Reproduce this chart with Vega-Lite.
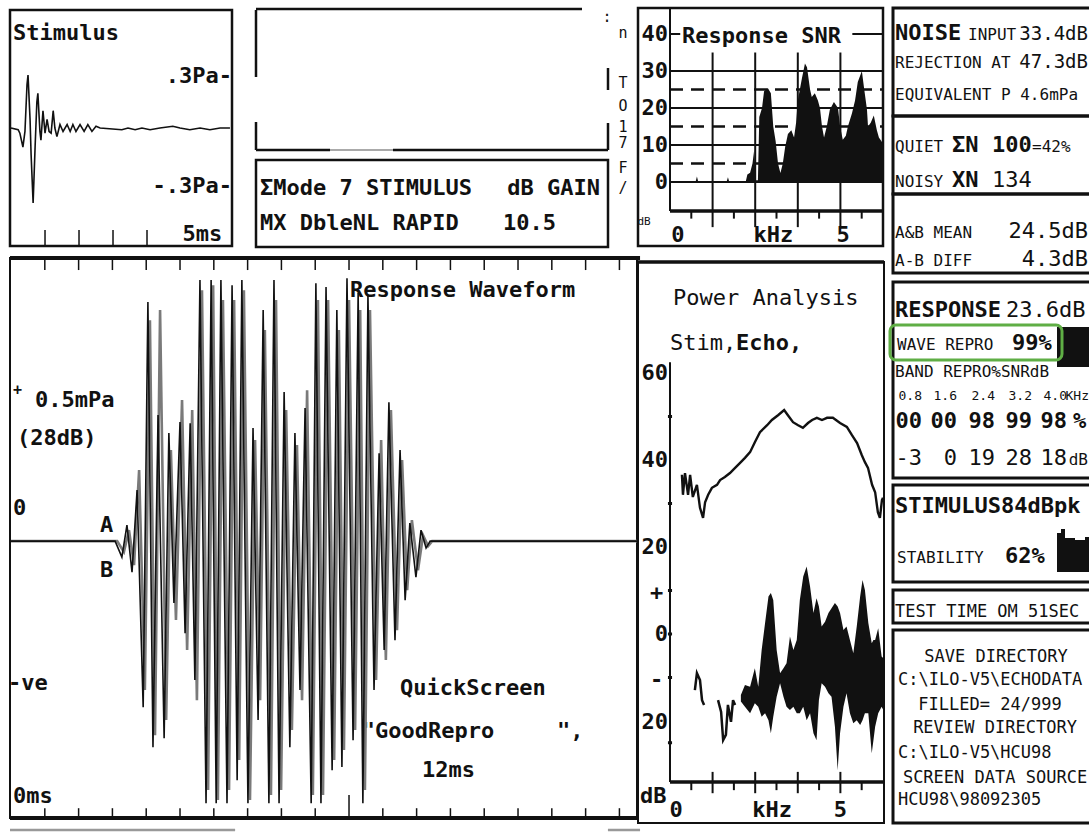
{
"$schema":"https://vega.github.io/schema/vega-lite/v6.json",
"width":1089,"height":832,"autosize":"none","padding":0,"background":"white",
"config":{"view":{"stroke":null},"text":{"font":"DejaVu Sans Mono","fontSize":22,"fontWeight":"bold","color":"#111","baseline":"alphabetic","align":"left"}},
"resolve":{"scale":{"x":"independent","y":"independent"}},
"layer":[
{"encoding":{"x":{"field":"ms","type":"quantitative","scale":{"domain":[-0.03,6.5],"range":[10,232],"nice":false,"zero":false},"axis":null},"y":{"field":"Pa","type":"quantitative","scale":{"domain":[-0.682,0.682],"range":[246,10],"nice":false,"zero":false},"axis":null}},
"layer":[
{"data":{"values":[{"ms":-0.03,"ms_end":6.5,"Pa":-0.682,"Pa_end":0.682}]},"mark":{"type":"rect","fillOpacity":0,"stroke":"#111","strokeWidth":2.5},"encoding":{"x2":{"field":"ms_end"},"y2":{"field":"Pa_end"}}},
{"data":{"values":[{"ms":1,"Pa":-0.682,"Pa_end":-0.59},{"ms":2,"Pa":-0.682,"Pa_end":-0.59},{"ms":3,"Pa":-0.682,"Pa_end":-0.59},{"ms":4,"Pa":-0.682,"Pa_end":-0.59}]},"mark":{"type":"rule","color":"#111","strokeWidth":1.5},"encoding":{"y2":{"field":"Pa_end"}}},
{"data":{"values":[{"ms":0,"Pa":0},{"ms":0.21,"Pa":-0.01},{"ms":0.26,"Pa":-0.03},{"ms":0.35,"Pa":-0.11},{"ms":0.41,"Pa":-0.02},{"ms":0.47,"Pa":0.25},{"ms":0.5,"Pa":0.306},{"ms":0.56,"Pa":0.05},{"ms":0.59,"Pa":-0.15},{"ms":0.65,"Pa":-0.434},{"ms":0.71,"Pa":-0.1},{"ms":0.76,"Pa":0.15},{"ms":0.79,"Pa":0.2},{"ms":0.85,"Pa":-0.02},{"ms":0.88,"Pa":-0.07},{"ms":0.94,"Pa":0.1},{"ms":1.0,"Pa":-0.03},{"ms":1.06,"Pa":0.05},{"ms":1.12,"Pa":-0.02},{"ms":1.18,"Pa":-0.03},{"ms":1.24,"Pa":0.1},{"ms":1.29,"Pa":0.0},{"ms":1.35,"Pa":-0.05},{"ms":1.44,"Pa":0.02},{"ms":1.53,"Pa":-0.02},{"ms":1.65,"Pa":0.02},{"ms":1.74,"Pa":-0.02},{"ms":1.82,"Pa":0.02},{"ms":1.91,"Pa":-0.02},{"ms":2.03,"Pa":0.02},{"ms":2.15,"Pa":-0.02},{"ms":2.26,"Pa":0.02},{"ms":2.38,"Pa":-0.02},{"ms":2.5,"Pa":0.01},{"ms":2.62,"Pa":0},{"ms":3.26,"Pa":-0.01},{"ms":3.44,"Pa":0},{"ms":3.65,"Pa":-0.01},{"ms":3.85,"Pa":0},{"ms":4.09,"Pa":-0.01},{"ms":4.38,"Pa":0},{"ms":4.76,"Pa":0.01},{"ms":4.97,"Pa":0},{"ms":5.26,"Pa":-0.01},{"ms":5.56,"Pa":0},{"ms":5.85,"Pa":-0.01},{"ms":6.15,"Pa":0},{"ms":6.44,"Pa":0}]},"mark":{"type":"line","color":"#111","strokeWidth":1.6},"encoding":{}},
{"data":{"values":[{"ms":0.06,"Pa":0.509,"label":"Stimulus"}]},"mark":{"type":"text"},"encoding":{"text":{"field":"label"}}},
{"data":{"values":[{"ms":6.5,"Pa":0.26,"label":".3Pa-"},{"ms":6.5,"Pa":-0.376,"label":"-.3Pa-"},{"ms":6.21,"Pa":-0.653,"label":"5ms"}]},"mark":{"type":"text","align":"right"},"encoding":{"text":{"field":"label"}}}
]},
{"encoding":{"x":{"field":"x","type":"quantitative","scale":{"domain":[0,380],"range":[256,636],"nice":false,"zero":false},"axis":null},"y":{"field":"y","type":"quantitative","scale":{"domain":[0,240],"range":[8,248],"nice":false,"zero":false},"axis":null}},
"layer":[
{"data":{"values":[{"x":0,"x_end":326,"y":1,"y_end":1},{"x":0,"x_end":0,"y":2,"y_end":69},{"x":0,"x_end":0,"y":114,"y_end":142},{"x":352,"x_end":352,"y":60,"y_end":82},{"x":352,"x_end":352,"y":115,"y_end":142},{"x":0,"x_end":74,"y":142,"y_end":142},{"x":137,"x_end":352,"y":142,"y_end":142}]},"mark":{"type":"rule","color":"#111","strokeWidth":2.5},"encoding":{"x2":{"field":"x_end"},"y2":{"field":"y_end"}}},
{"data":{"values":[{"x":74,"x_end":137,"y":142,"y_end":142}]},"mark":{"type":"rule","color":"#aaa","strokeWidth":2},"encoding":{"x2":{"field":"x_end"},"y2":{"field":"y_end"}}},
{"data":{"values":[{"x":0,"x_end":352,"y":152,"y_end":239}]},"mark":{"type":"rect","fillOpacity":0,"stroke":"#111","strokeWidth":2.5},"encoding":{"x2":{"field":"x_end"},"y2":{"field":"y_end"}}},
{"data":{"values":[{"x":4,"y":187,"label":"ΣMode 7 STIMULUS"},{"x":4,"y":222,"label":"MX DbleNL RAPID"},{"x":247,"y":222,"label":"10.5"}]},"mark":{"type":"text"},"encoding":{"text":{"field":"label"}}},
{"data":{"values":[{"x":344,"y":187,"label":"dB GAIN"}]},"mark":{"type":"text","align":"right"},"encoding":{"text":{"field":"label"}}},
{"data":{"values":[{"x":367,"y":30,"label":"n"},{"x":367,"y":80,"label":"T"},{"x":367,"y":103,"label":"O"},{"x":367,"y":124,"label":"1"},{"x":367,"y":140,"label":"7"},{"x":367,"y":165,"label":"F"},{"x":367,"y":185,"label":"/"},{"x":351,"y":14,"label":":"}]},"mark":{"type":"text","align":"center","fontSize":15,"fontWeight":"normal"},"encoding":{"text":{"field":"label"}}}
]},
{"encoding":{"x":{"field":"kHz","type":"quantitative","scale":{"domain":[-0.939,6.25],"range":[638,883],"nice":false,"zero":false},"axis":null},"y":{"field":"dB","type":"quantitative","scale":{"domain":[-17.3,47.03],"range":[246,8],"nice":false,"zero":false},"axis":null}},
"layer":[
{"data":{"values":[{"kHz":-0.939,"kHz_end":6.25,"dB":-17.3,"dB_end":47.03}]},"mark":{"type":"rect","fillOpacity":0,"stroke":"#111","strokeWidth":2.5},"encoding":{"x2":{"field":"kHz_end"},"y2":{"field":"dB_end"}}},
{"data":{"values":[{"kHz":0,"kHz_end":6.25,"dB":5,"dB_end":5},{"kHz":0,"kHz_end":6.25,"dB":15,"dB_end":15},{"kHz":0,"kHz_end":6.25,"dB":25,"dB_end":25}]},"mark":{"type":"rule","color":"#111","strokeWidth":2.5,"strokeDash":[13,8]},"encoding":{"x2":{"field":"kHz_end"},"y2":{"field":"dB_end"}}},
{"data":{"values":[{"kHz":0,"kHz_end":6.25,"dB":0,"dB_end":0},{"kHz":0,"kHz_end":6.25,"dB":10,"dB_end":10},{"kHz":0,"kHz_end":6.25,"dB":20,"dB_end":20},{"kHz":0,"kHz_end":6.25,"dB":30,"dB_end":30},{"kHz":0,"kHz_end":0.3,"dB":40,"dB_end":40},{"kHz":5.35,"kHz_end":6.25,"dB":40,"dB_end":40},{"kHz":1.25,"kHz_end":1.25,"dB":-7.84,"dB_end":35},{"kHz":2.5,"kHz_end":2.5,"dB":-7.84,"dB_end":35},{"kHz":3.75,"kHz_end":3.75,"dB":-7.84,"dB_end":35},{"kHz":5,"kHz_end":5,"dB":-7.84,"dB_end":35},{"kHz":0,"kHz_end":0,"dB":-7.84,"dB_end":47.03},{"kHz":1.25,"kHz_end":1.25,"dB":-7.84,"dB_end":-12.2},{"kHz":2.5,"kHz_end":2.5,"dB":-7.84,"dB_end":-12.2},{"kHz":3.75,"kHz_end":3.75,"dB":-7.84,"dB_end":-12.2},{"kHz":5,"kHz_end":5,"dB":-7.84,"dB_end":-12.2},{"kHz":0.625,"kHz_end":0.625,"dB":-7.84,"dB_end":-9.9},{"kHz":1.875,"kHz_end":1.875,"dB":-7.84,"dB_end":-9.9},{"kHz":3.125,"kHz_end":3.125,"dB":-7.84,"dB_end":-9.9},{"kHz":4.375,"kHz_end":4.375,"dB":-7.84,"dB_end":-9.9},{"kHz":5.625,"kHz_end":5.625,"dB":-7.84,"dB_end":-9.9}]},"mark":{"type":"rule","color":"#111","strokeWidth":2},"encoding":{"x2":{"field":"kHz_end"},"y2":{"field":"dB_end"}}},
{"data":{"values":[{"kHz":0,"kHz_end":6.25,"dB":-7.84,"dB_end":-7.84}]},"mark":{"type":"rule","color":"#111","strokeWidth":3.5},"encoding":{"x2":{"field":"kHz_end"},"y2":{"field":"dB_end"}}},
{"data":{"values":[{"kHz":0,"dB":0},{"kHz":0.75,"dB":0},{"kHz":0.79,"dB":1.5},{"kHz":0.83,"dB":0},{"kHz":1.66,"dB":0},{"kHz":1.7,"dB":1.3},{"kHz":1.74,"dB":0},{"kHz":2.22,"dB":0},{"kHz":2.27,"dB":2.0},{"kHz":2.35,"dB":2.5},{"kHz":2.42,"dB":5.0},{"kHz":2.47,"dB":8.6},{"kHz":2.52,"dB":0.5},{"kHz":2.58,"dB":0.5},{"kHz":2.62,"dB":17.6},{"kHz":2.7,"dB":20},{"kHz":2.76,"dB":24.5},{"kHz":2.87,"dB":25.4},{"kHz":2.96,"dB":24},{"kHz":3.03,"dB":15},{"kHz":3.1,"dB":11},{"kHz":3.17,"dB":5},{"kHz":3.24,"dB":2.4},{"kHz":3.31,"dB":5},{"kHz":3.38,"dB":9.5},{"kHz":3.46,"dB":13},{"kHz":3.56,"dB":14},{"kHz":3.64,"dB":12},{"kHz":3.7,"dB":16},{"kHz":3.75,"dB":22},{"kHz":3.87,"dB":28},{"kHz":3.96,"dB":32},{"kHz":4.02,"dB":31},{"kHz":4.11,"dB":25},{"kHz":4.16,"dB":23},{"kHz":4.25,"dB":24},{"kHz":4.34,"dB":22},{"kHz":4.4,"dB":20},{"kHz":4.46,"dB":15},{"kHz":4.52,"dB":12},{"kHz":4.6,"dB":15},{"kHz":4.69,"dB":19.5},{"kHz":4.81,"dB":21.6},{"kHz":4.93,"dB":20},{"kHz":4.99,"dB":15},{"kHz":5.07,"dB":11.4},{"kHz":5.16,"dB":12.5},{"kHz":5.22,"dB":15},{"kHz":5.34,"dB":18.6},{"kHz":5.43,"dB":22},{"kHz":5.51,"dB":27},{"kHz":5.63,"dB":30},{"kHz":5.69,"dB":25.7},{"kHz":5.78,"dB":19.5},{"kHz":5.81,"dB":15},{"kHz":5.89,"dB":16},{"kHz":5.98,"dB":18},{"kHz":6.07,"dB":14},{"kHz":6.13,"dB":12},{"kHz":6.22,"dB":10.8},{"kHz":6.25,"dB":10.8}]},"mark":{"type":"area","color":"#111"},"encoding":{"y2":{"datum":0}}},
{"data":{"values":[{"kHz":-0.06,"dB":40,"label":"40"},{"kHz":-0.06,"dB":30,"label":"30"},{"kHz":-0.06,"dB":20,"label":"20"},{"kHz":-0.06,"dB":10,"label":"10"},{"kHz":-0.06,"dB":0,"label":"0"}]},"mark":{"type":"text","align":"right","baseline":"middle"},"encoding":{"text":{"field":"label"}}},
{"data":{"values":[{"kHz":0.35,"dB":37.6,"label":"Response SNR"}]},"mark":{"type":"text"},"encoding":{"text":{"field":"label"}}},
{"data":{"values":[{"kHz":0.23,"dB":-16.2,"label":"0"},{"kHz":3.03,"dB":-16.2,"label":"kHz"},{"kHz":5.08,"dB":-16.2,"label":"5"}]},"mark":{"type":"text","align":"center"},"encoding":{"text":{"field":"label"}}},
{"data":{"values":[{"kHz":-0.76,"dB":-10.8,"label":"dB"}]},"mark":{"type":"text","align":"center","baseline":"middle","fontSize":11,"fontWeight":"normal"},"encoding":{"text":{"field":"label"}}}
]},
{"encoding":{"x":{"field":"ms","type":"quantitative","scale":{"domain":[-0.03,18.52],"range":[10,637],"nice":false,"zero":false},"axis":null},"y":{"field":"mPa","type":"quantitative","scale":{"domain":[-0.989,1.011],"range":[818,258],"nice":false,"zero":false},"axis":null}},
"layer":[
{"data":{"values":[{"ms":-0.03,"ms_end":18.52,"mPa":-0.989,"mPa_end":1.011}]},"mark":{"type":"rect","fillOpacity":0,"stroke":"#111","strokeWidth":2},"encoding":{"x2":{"field":"ms_end"},"y2":{"field":"mPa_end"}}},
{"data":{"values":[{"ms":-0.03,"ms_end":18.61,"mPa":1.011,"mPa_end":1.011},{"ms":-0.03,"ms_end":18.52,"mPa":-0.989,"mPa_end":-0.989}]},"mark":{"type":"rule","color":"#111","strokeWidth":4},"encoding":{"x2":{"field":"ms_end"},"y2":{"field":"mPa_end"}}},
{"data":{"values":[{"ms":1,"ms_end":1,"mPa":1.011,"mPa_end":0.968},{"ms":2,"ms_end":2,"mPa":1.011,"mPa_end":0.968},{"ms":3,"ms_end":3,"mPa":1.011,"mPa_end":0.968},{"ms":4,"ms_end":4,"mPa":1.011,"mPa_end":0.968},{"ms":5,"ms_end":5,"mPa":1.011,"mPa_end":0.968},{"ms":6,"ms_end":6,"mPa":1.011,"mPa_end":0.968},{"ms":7,"ms_end":7,"mPa":1.011,"mPa_end":0.968},{"ms":8,"ms_end":8,"mPa":1.011,"mPa_end":0.968},{"ms":9,"ms_end":9,"mPa":1.011,"mPa_end":0.968},{"ms":10,"ms_end":10,"mPa":1.011,"mPa_end":0.968},{"ms":11,"ms_end":11,"mPa":1.011,"mPa_end":0.968},{"ms":12,"ms_end":12,"mPa":1.011,"mPa_end":0.968},{"ms":13,"ms_end":13,"mPa":1.011,"mPa_end":0.968},{"ms":14,"ms_end":14,"mPa":1.011,"mPa_end":0.968},{"ms":15,"ms_end":15,"mPa":1.011,"mPa_end":0.968},{"ms":16,"ms_end":16,"mPa":1.011,"mPa_end":0.968},{"ms":17,"ms_end":17,"mPa":1.011,"mPa_end":0.968},{"ms":18,"ms_end":18,"mPa":1.011,"mPa_end":0.968},{"ms":1,"ms_end":1,"mPa":-0.989,"mPa_end":-0.954},{"ms":2,"ms_end":2,"mPa":-0.989,"mPa_end":-0.954},{"ms":3,"ms_end":3,"mPa":-0.989,"mPa_end":-0.954},{"ms":4,"ms_end":4,"mPa":-0.989,"mPa_end":-0.954},{"ms":5,"ms_end":5,"mPa":-0.989,"mPa_end":-0.954},{"ms":6,"ms_end":6,"mPa":-0.989,"mPa_end":-0.954},{"ms":7,"ms_end":7,"mPa":-0.989,"mPa_end":-0.954},{"ms":8,"ms_end":8,"mPa":-0.989,"mPa_end":-0.954},{"ms":9,"ms_end":9,"mPa":-0.989,"mPa_end":-0.954},{"ms":10,"ms_end":10,"mPa":-0.989,"mPa_end":-0.907},{"ms":11,"ms_end":11,"mPa":-0.989,"mPa_end":-0.954},{"ms":12,"ms_end":12,"mPa":-0.989,"mPa_end":-0.954},{"ms":13,"ms_end":13,"mPa":-0.989,"mPa_end":-0.954},{"ms":14,"ms_end":14,"mPa":-0.989,"mPa_end":-0.954},{"ms":15,"ms_end":15,"mPa":-0.989,"mPa_end":-0.954},{"ms":16,"ms_end":16,"mPa":-0.989,"mPa_end":-0.954},{"ms":17,"ms_end":17,"mPa":-0.989,"mPa_end":-0.954},{"ms":18,"ms_end":18,"mPa":-0.989,"mPa_end":-0.954}]},"mark":{"type":"rule","color":"#111","strokeWidth":1.5},"encoding":{"x2":{"field":"ms_end"},"y2":{"field":"mPa_end"}}},
{"data":{"values":[{"ms":-0.03,"ms_end":6.63,"mPa":-1.032,"mPa_end":-1.032},{"ms":17.66,"ms_end":18.61,"mPa":-1.032,"mPa_end":-1.032}]},"mark":{"type":"rule","color":"#999","strokeWidth":2.5},"encoding":{"x2":{"field":"ms_end"},"y2":{"field":"mPa_end"}}},
{"data":{"values":[{"ms":10.03,"mPa":0.871,"label":"Response Waveform"},{"ms":0.71,"mPa":0.479,"label":"0.5mPa"},{"ms":0.18,"mPa":0.343,"label":"(28dB)"},{"ms":0.06,"mPa":0.093,"label":"0"},{"ms":2.63,"mPa":0.032,"label":"A"},{"ms":2.63,"mPa":-0.129,"label":"B"},{"ms":-0.09,"mPa":-0.532,"label":"-ve"},{"ms":11.51,"mPa":-0.55,"label":"QuickScreen"},{"ms":10.38,"mPa":-0.704,"label":"\"GoodRepro"},{"ms":16.15,"mPa":-0.704,"label":"\","},{"ms":12.16,"mPa":-0.843,"label":"12ms"},{"ms":0.06,"mPa":-0.936,"label":"0ms"}]},"mark":{"type":"text"},"encoding":{"text":{"field":"label"}}},
{"data":{"values":[{"ms":0.06,"mPa":0.52,"label":"+"}]},"mark":{"type":"text","fontSize":15},"encoding":{"text":{"field":"label"}}},
{"data":{"values":[{"ms":0,"mPa":0},{"ms":3.14,"mPa":0},{"ms":3.34,"mPa":-0.039},{"ms":3.49,"mPa":0.039},{"ms":3.64,"mPa":-0.086},{"ms":3.79,"mPa":0.254},{"ms":3.96,"mPa":-0.532},{"ms":4.11,"mPa":0.789},{"ms":4.26,"mPa":-0.693},{"ms":4.41,"mPa":0.825},{"ms":4.59,"mPa":-0.639},{"ms":4.73,"mPa":0.325},{"ms":4.88,"mPa":-0.282},{"ms":5.06,"mPa":0.504},{"ms":5.21,"mPa":-0.389},{"ms":5.36,"mPa":0.468},{"ms":5.5,"mPa":-0.568},{"ms":5.65,"mPa":0.896},{"ms":5.83,"mPa":-0.889},{"ms":5.98,"mPa":0.914},{"ms":6.12,"mPa":-0.925},{"ms":6.27,"mPa":0.861},{"ms":6.45,"mPa":-0.889},{"ms":6.6,"mPa":0.861},{"ms":6.75,"mPa":-0.782},{"ms":6.89,"mPa":0.896},{"ms":7.07,"mPa":-0.925},{"ms":7.22,"mPa":0.361},{"ms":7.37,"mPa":-0.568},{"ms":7.51,"mPa":0.754},{"ms":7.69,"mPa":-0.907},{"ms":7.84,"mPa":0.861},{"ms":7.99,"mPa":-0.889},{"ms":8.14,"mPa":0.468},{"ms":8.31,"mPa":-0.675},{"ms":8.46,"mPa":0.343},{"ms":8.61,"mPa":-0.568},{"ms":8.76,"mPa":0.539},{"ms":8.93,"mPa":-0.907},{"ms":9.08,"mPa":0.861},{"ms":9.23,"mPa":-0.907},{"ms":9.38,"mPa":0.861},{"ms":9.56,"mPa":-0.782},{"ms":9.7,"mPa":0.754},{"ms":9.85,"mPa":-0.746},{"ms":10.0,"mPa":0.861},{"ms":10.18,"mPa":-0.675},{"ms":10.33,"mPa":0.825},{"ms":10.47,"mPa":-0.889},{"ms":10.62,"mPa":0.825},{"ms":10.8,"mPa":-0.496},{"ms":10.95,"mPa":0.361},{"ms":11.09,"mPa":-0.425},{"ms":11.24,"mPa":0.468},{"ms":11.42,"mPa":-0.318},{"ms":11.57,"mPa":0.289},{"ms":11.72,"mPa":-0.175},{"ms":11.86,"mPa":0.075},{"ms":12.04,"mPa":-0.104},{"ms":12.19,"mPa":0.021},{"ms":12.34,"mPa":-0.018},{"ms":12.46,"mPa":0},{"ms":18.52,"mPa":0}]},"mark":{"type":"line","color":"#7a7a7a","strokeWidth":2.6},"encoding":{}},
{"data":{"values":[{"ms":0,"mPa":0},{"ms":3.08,"mPa":0},{"ms":3.28,"mPa":-0.057},{"ms":3.43,"mPa":0.057},{"ms":3.58,"mPa":-0.111},{"ms":3.73,"mPa":0.182},{"ms":3.91,"mPa":-0.593},{"ms":4.05,"mPa":0.854},{"ms":4.2,"mPa":-0.736},{"ms":4.35,"mPa":0.45},{"ms":4.53,"mPa":-0.704},{"ms":4.67,"mPa":0.386},{"ms":4.82,"mPa":-0.221},{"ms":5.0,"mPa":0.425},{"ms":5.15,"mPa":-0.329},{"ms":5.3,"mPa":0.421},{"ms":5.44,"mPa":-0.496},{"ms":5.59,"mPa":0.932},{"ms":5.77,"mPa":-0.936},{"ms":5.92,"mPa":0.932},{"ms":6.07,"mPa":-0.936},{"ms":6.21,"mPa":0.932},{"ms":6.39,"mPa":-0.936},{"ms":6.54,"mPa":0.914},{"ms":6.69,"mPa":-0.854},{"ms":6.83,"mPa":0.932},{"ms":7.01,"mPa":-0.936},{"ms":7.16,"mPa":0.404},{"ms":7.31,"mPa":-0.639},{"ms":7.46,"mPa":0.825},{"ms":7.63,"mPa":-0.936},{"ms":7.78,"mPa":0.932},{"ms":7.93,"mPa":-0.936},{"ms":8.08,"mPa":0.532},{"ms":8.25,"mPa":-0.736},{"ms":8.4,"mPa":0.386},{"ms":8.55,"mPa":-0.532},{"ms":8.7,"mPa":0.475},{"ms":8.88,"mPa":-0.936},{"ms":9.02,"mPa":0.921},{"ms":9.17,"mPa":-0.936},{"ms":9.32,"mPa":0.907},{"ms":9.5,"mPa":-0.818},{"ms":9.64,"mPa":0.825},{"ms":9.79,"mPa":-0.807},{"ms":9.94,"mPa":0.939},{"ms":10.12,"mPa":-0.711},{"ms":10.27,"mPa":0.886},{"ms":10.41,"mPa":-0.936},{"ms":10.56,"mPa":0.879},{"ms":10.74,"mPa":-0.532},{"ms":10.89,"mPa":0.314},{"ms":11.04,"mPa":-0.389},{"ms":11.18,"mPa":0.496},{"ms":11.36,"mPa":-0.354},{"ms":11.51,"mPa":0.325},{"ms":11.66,"mPa":-0.211},{"ms":11.8,"mPa":0.064},{"ms":11.98,"mPa":-0.129},{"ms":12.13,"mPa":0.039},{"ms":12.28,"mPa":-0.025},{"ms":12.4,"mPa":0},{"ms":18.52,"mPa":0}]},"mark":{"type":"line","color":"#111","strokeWidth":1.6},"encoding":{}}
]},
{"encoding":{"x":{"field":"kHz","type":"quantitative","scale":{"domain":[-0.939,6.28],"range":[638,884],"nice":false,"zero":false},"axis":null},"y":{"field":"dB","type":"quantitative","scale":{"domain":[-43.45,85.52],"range":[823,262],"nice":false,"zero":false},"axis":null}},
"layer":[
{"data":{"values":[{"kHz":-0.939,"kHz_end":6.28,"dB":-43.45,"dB_end":85.52}]},"mark":{"type":"rect","fillOpacity":0,"stroke":"#111","strokeWidth":2},"encoding":{"x2":{"field":"kHz_end"},"y2":{"field":"dB_end"}}},
{"data":{"values":[{"kHz":-0.939,"kHz_end":6.28,"dB":85.52,"dB_end":85.52},{"kHz":0,"kHz_end":6.28,"dB":-34.02,"dB_end":-34.02}]},"mark":{"type":"rule","color":"#111","strokeWidth":3.5},"encoding":{"x2":{"field":"kHz_end"},"y2":{"field":"dB_end"}}},
{"data":{"values":[{"kHz":0,"kHz_end":0,"dB":-34.02,"dB_end":62.5},{"kHz":1.25,"kHz_end":1.25,"dB":-31.7,"dB_end":-36.6},{"kHz":2.5,"kHz_end":2.5,"dB":-31.7,"dB_end":-36.6},{"kHz":3.75,"kHz_end":3.75,"dB":-31.7,"dB_end":-36.6},{"kHz":5,"kHz_end":5,"dB":-31.7,"dB_end":-36.6},{"kHz":0.625,"kHz_end":0.625,"dB":-34.02,"dB_end":-35.9},{"kHz":1.875,"kHz_end":1.875,"dB":-34.02,"dB_end":-35.9},{"kHz":3.125,"kHz_end":3.125,"dB":-34.02,"dB_end":-35.9},{"kHz":4.375,"kHz_end":4.375,"dB":-34.02,"dB_end":-35.9},{"kHz":5.625,"kHz_end":5.625,"dB":-34.02,"dB_end":-35.9}]},"mark":{"type":"rule","color":"#111","strokeWidth":2},"encoding":{"x2":{"field":"kHz_end"},"y2":{"field":"dB_end"}}},
{"data":{"values":[{"kHz":-0.06,"kHz_end":0.06,"dB":50,"dB_end":50},{"kHz":-0.06,"kHz_end":0.06,"dB":30,"dB_end":30},{"kHz":-0.06,"kHz_end":0.06,"dB":10,"dB_end":10},{"kHz":-0.06,"kHz_end":0.06,"dB":0,"dB_end":0},{"kHz":-0.06,"kHz_end":0.06,"dB":-10,"dB_end":-10},{"kHz":-0.06,"kHz_end":0.06,"dB":-25,"dB_end":-25}]},"mark":{"type":"rule","color":"#111","strokeWidth":3},"encoding":{"x2":{"field":"kHz_end"},"y2":{"field":"dB_end"}}},
{"data":{"values":[{"kHz":0.35,"dB":36.6},{"kHz":0.38,"dB":32},{"kHz":0.44,"dB":37},{"kHz":0.53,"dB":32},{"kHz":0.59,"dB":36.6},{"kHz":0.67,"dB":31.5},{"kHz":0.79,"dB":34.3},{"kHz":0.88,"dB":29},{"kHz":0.97,"dB":26.7},{"kHz":1.03,"dB":30.3},{"kHz":1.12,"dB":32},{"kHz":1.23,"dB":33.6},{"kHz":1.38,"dB":34.3},{"kHz":1.47,"dB":35.4},{"kHz":1.61,"dB":36.1},{"kHz":1.76,"dB":37},{"kHz":1.91,"dB":38.2},{"kHz":2.05,"dB":39.3},{"kHz":2.2,"dB":40.5},{"kHz":2.35,"dB":41.8},{"kHz":2.49,"dB":44.1},{"kHz":2.64,"dB":46.4},{"kHz":2.85,"dB":48},{"kHz":2.99,"dB":49.2},{"kHz":3.17,"dB":50.3},{"kHz":3.35,"dB":51.5},{"kHz":3.46,"dB":50.3},{"kHz":3.61,"dB":48.7},{"kHz":3.76,"dB":48},{"kHz":3.9,"dB":47.4},{"kHz":4.05,"dB":48.5},{"kHz":4.17,"dB":49.2},{"kHz":4.31,"dB":49.7},{"kHz":4.46,"dB":49.2},{"kHz":4.61,"dB":49.7},{"kHz":4.78,"dB":49.7},{"kHz":4.99,"dB":48.5},{"kHz":5.19,"dB":47.6},{"kHz":5.34,"dB":45.7},{"kHz":5.49,"dB":43.9},{"kHz":5.63,"dB":41.1},{"kHz":5.72,"dB":39.5},{"kHz":5.81,"dB":38.2},{"kHz":5.93,"dB":34.3},{"kHz":6.02,"dB":32.6},{"kHz":6.1,"dB":28},{"kHz":6.16,"dB":26.7},{"kHz":6.22,"dB":30.8},{"kHz":6.25,"dB":31.3}]},"mark":{"type":"line","color":"#111","strokeWidth":2.4},"encoding":{}},
{"data":{"values":[{"kHz":2.08,"dB":-14.0,"dB_lo":-15.5},{"kHz":2.2,"dB":-11.7,"dB_lo":-16.7},{"kHz":2.35,"dB":-12.1,"dB_lo":-18.2},{"kHz":2.49,"dB":-7.9,"dB_lo":-15.9},{"kHz":2.59,"dB":-12.1,"dB_lo":-16.7},{"kHz":2.69,"dB":-3.7,"dB_lo":-19.0},{"kHz":2.79,"dB":2.5,"dB_lo":-18.2},{"kHz":2.89,"dB":8.6,"dB_lo":-19.8},{"kHz":2.96,"dB":9.4,"dB_lo":-22.8},{"kHz":3.03,"dB":7.8,"dB_lo":-19.0},{"kHz":3.13,"dB":-3.7,"dB_lo":-14.4},{"kHz":3.23,"dB":-9.0,"dB_lo":-11.3},{"kHz":3.33,"dB":-7.9,"dB_lo":-14.4},{"kHz":3.42,"dB":-6.7,"dB_lo":-16.7},{"kHz":3.52,"dB":-0.6,"dB_lo":-17.5},{"kHz":3.62,"dB":-3.7,"dB_lo":-16.7},{"kHz":3.72,"dB":-1.4,"dB_lo":-18.2},{"kHz":3.81,"dB":7.8,"dB_lo":-18.2},{"kHz":3.91,"dB":13.2,"dB_lo":-16.7},{"kHz":4.01,"dB":15.5,"dB_lo":-19.8},{"kHz":4.11,"dB":10.9,"dB_lo":-18.2},{"kHz":4.21,"dB":4.8,"dB_lo":-22.8},{"kHz":4.3,"dB":8.2,"dB_lo":-24.4},{"kHz":4.37,"dB":6.3,"dB_lo":-15.2},{"kHz":4.45,"dB":1.7,"dB_lo":-11.3},{"kHz":4.55,"dB":2.8,"dB_lo":-12.1},{"kHz":4.65,"dB":4.8,"dB_lo":-13.6},{"kHz":4.74,"dB":5.9,"dB_lo":-14.4},{"kHz":4.84,"dB":7.1,"dB_lo":-21.3},{"kHz":4.92,"dB":6.3,"dB_lo":-31.3},{"kHz":4.99,"dB":4.8,"dB_lo":-22.8},{"kHz":5.09,"dB":0.9,"dB_lo":-16.7},{"kHz":5.18,"dB":1.7,"dB_lo":-13.6},{"kHz":5.28,"dB":-1.4,"dB_lo":-18.2},{"kHz":5.38,"dB":-4.4,"dB_lo":-20.5},{"kHz":5.48,"dB":1.7,"dB_lo":-19.8},{"kHz":5.58,"dB":8.6,"dB_lo":-20.9},{"kHz":5.65,"dB":12.4,"dB_lo":-19.8},{"kHz":5.72,"dB":10.1,"dB_lo":-18.2},{"kHz":5.82,"dB":2.5,"dB_lo":-18.2},{"kHz":5.92,"dB":-2.1,"dB_lo":-27.4},{"kHz":5.97,"dB":-1.4,"dB_lo":-24.4},{"kHz":6.02,"dB":-1.4,"dB_lo":-21.3},{"kHz":6.11,"dB":1.3,"dB_lo":-18.2},{"kHz":6.21,"dB":-5.2,"dB_lo":-16.7},{"kHz":6.26,"dB":-5.6,"dB_lo":-17.5}]},"mark":{"type":"area","color":"#111"},"encoding":{"y2":{"field":"dB_lo"}}},
{"data":{"values":[{"seg":1,"kHz":0.73,"dB":-12.9},{"seg":1,"kHz":0.79,"dB":-9.0},{"seg":1,"kHz":0.88,"dB":-10.6},{"seg":1,"kHz":0.94,"dB":-15.2},{"seg":1,"kHz":1.0,"dB":-16.3},{"seg":2,"kHz":1.41,"dB":-15.2},{"seg":2,"kHz":1.5,"dB":-17.9},{"seg":2,"kHz":1.56,"dB":-24.4},{"seg":2,"kHz":1.64,"dB":-23.2},{"seg":2,"kHz":1.7,"dB":-16.3},{"seg":2,"kHz":1.79,"dB":-20.2},{"seg":2,"kHz":1.85,"dB":-15.2},{"seg":2,"kHz":1.91,"dB":-16.3}]},"mark":{"type":"line","color":"#111","strokeWidth":2.5},"encoding":{"detail":{"field":"seg","type":"nominal"}}},
{"data":{"values":[{"kHz":-0.06,"dB":60,"label":"60"},{"kHz":-0.06,"dB":40,"label":"40"},{"kHz":-0.06,"dB":20,"label":"20"},{"kHz":-0.06,"dB":0,"label":"0"},{"kHz":-0.06,"dB":-20.2,"label":"20"}]},"mark":{"type":"text","align":"right","baseline":"middle"},"encoding":{"text":{"field":"label"}}},
{"data":{"values":[{"kHz":-0.2,"dB":9.4,"label":"+"},{"kHz":-0.2,"dB":-10.6,"label":"-"}]},"mark":{"type":"text","align":"right","baseline":"middle"},"encoding":{"text":{"field":"label"}}},
{"data":{"values":[{"kHz":-0.88,"dB":-38.9,"label":"dB"}]},"mark":{"type":"text"},"encoding":{"text":{"field":"label"}}},
{"data":{"values":[{"kHz":0.18,"dB":-42.1,"label":"0"},{"kHz":3.0,"dB":-42.1,"label":"kHz"},{"kHz":5.0,"dB":-42.1,"label":"5"}]},"mark":{"type":"text","align":"center"},"encoding":{"text":{"field":"label"}}},
{"data":{"values":[{"kHz":0.09,"dB":75.6,"label":"Power Analysis"},{"kHz":0,"dB":65.3,"label":"Stim,"}]},"mark":{"type":"text","fontWeight":"normal"},"encoding":{"text":{"field":"label"}}},
{"data":{"values":[{"kHz":1.94,"dB":65.3,"label":"Echo,"}]},"mark":{"type":"text"},"encoding":{"text":{"field":"label"}}}
]},
{"encoding":{"x":{"field":"x","type":"quantitative","scale":{"domain":[0,199],"range":[890,1089],"nice":false,"zero":false},"axis":null},"y":{"field":"y","type":"quantitative","scale":{"domain":[0,832],"range":[0,832],"nice":false,"zero":false},"axis":null}},
"layer":[
{"data":{"values":[{"x":3,"x_end":215,"y":8,"y_end":116},{"x":3,"x_end":215,"y":116,"y_end":194},{"x":3,"x_end":215,"y":194,"y_end":273},{"x":3,"x_end":215,"y":282,"y_end":478},{"x":3,"x_end":215,"y":485,"y_end":582},{"x":3,"x_end":215,"y":590,"y_end":623},{"x":3,"x_end":215,"y":630,"y_end":823}]},"mark":{"type":"rect","fillOpacity":0,"stroke":"#111","strokeWidth":3},"encoding":{"x2":{"field":"x_end"},"y2":{"field":"y_end"}}},
{"data":{"values":[{"x":167,"x_end":215,"y":327,"y_end":367}]},"mark":{"type":"rect","color":"#111"},"encoding":{"x2":{"field":"x_end"},"y2":{"field":"y_end"}}},
{"data":{"values":[{"x":167,"y":533,"y_end":572},{"x":171,"y":529,"y_end":572},{"x":175,"y":538,"y_end":572},{"x":185,"y":540,"y_end":572},{"x":195,"y":537,"y_end":572},{"x":200,"y":531,"y_end":572},{"x":205,"y":528,"y_end":572},{"x":215,"y":528,"y_end":572}]},"mark":{"type":"area","color":"#111","interpolate":"step-after"},"encoding":{"y2":{"field":"y_end"}}},
{"data":{"values":[{"x":0,"x_end":172,"y":325,"y_end":360}]},"mark":{"type":"rect","fillOpacity":0,"stroke":"#5fae45","strokeWidth":3,"cornerRadius":6},"encoding":{"x2":{"field":"x_end"},"y2":{"field":"y_end"}}},
{"data":{"values":[{"x":5,"y":40,"label":"NOISE"},{"x":62,"y":152,"label":"ΣN"},{"x":102,"y":152,"label":"100"},{"x":62,"y":187,"label":"XN"},{"x":5,"y":317,"label":"RESPONSE"},{"x":122,"y":350,"label":"99%"},{"x":5,"y":513,"label":"STIMULUS84dBpk"},{"x":115,"y":563,"label":"62%"},{"x":183,"y":428,"label":"%"}]},"mark":{"type":"text"},"encoding":{"text":{"field":"label"}}},
{"data":{"values":[{"x":102,"y":187,"label":"134"},{"x":116,"y":317,"label":"23.6dB"}]},"mark":{"type":"text","fontWeight":"normal"},"encoding":{"text":{"field":"label"}}},
{"data":{"values":[{"x":198,"y":40,"label":"33.4dB"},{"x":198,"y":68,"label":"47.3dB"}]},"mark":{"type":"text","fontWeight":"normal","fontSize":19,"align":"right"},"encoding":{"text":{"field":"label"}}},
{"data":{"values":[{"x":198,"y":238,"label":"24.5dB"},{"x":198,"y":266,"label":"4.3dB"},{"x":32,"y":465,"label":"-3"},{"x":67,"y":465,"label":"0"},{"x":105,"y":465,"label":"19"},{"x":142,"y":465,"label":"28"},{"x":177,"y":465,"label":"18"}]},"mark":{"type":"text","align":"right","fontWeight":"normal"},"encoding":{"text":{"field":"label"}}},
{"data":{"values":[{"x":32,"y":428,"label":"00"},{"x":67,"y":428,"label":"00"},{"x":105,"y":428,"label":"98"},{"x":142,"y":428,"label":"99"},{"x":177,"y":428,"label":"98"}]},"mark":{"type":"text","align":"right"},"encoding":{"text":{"field":"label"}}},
{"data":{"values":[{"x":78,"y":40,"label":"INPUT"},{"x":5,"y":68,"label":"REJECTION AT"},{"x":5,"y":100,"label":"EQUIVALENT P 4.6mPa"},{"x":5,"y":152,"label":"QUIET"},{"x":5,"y":187,"label":"NOISY"},{"x":142,"y":152,"label":"=42%"},{"x":5,"y":238,"label":"A&B MEAN"},{"x":5,"y":266,"label":"A-B DIFF"},{"x":7,"y":350,"label":"WAVE REPRO"},{"x":5,"y":377,"label":"BAND REPRO%SNRdB"},{"x":7,"y":563,"label":"STABILITY"}]},"mark":{"type":"text","fontSize":16,"fontWeight":"normal"},"encoding":{"text":{"field":"label"}}},
{"data":{"values":[{"x":198,"y":465,"label":"dB"}]},"mark":{"type":"text","fontSize":16,"fontWeight":"normal","align":"right"},"encoding":{"text":{"field":"label"}}},
{"data":{"values":[{"x":32,"y":400,"label":"0.8"},{"x":67,"y":400,"label":"1.6"},{"x":105,"y":400,"label":"2.4"},{"x":142,"y":400,"label":"3.2"},{"x":177,"y":400,"label":"4.0"},{"x":199,"y":400,"label":"KHz"}]},"mark":{"type":"text","fontSize":13,"fontWeight":"normal","align":"right"},"encoding":{"text":{"field":"label"}}},
{"data":{"values":[{"x":5,"y":617,"label":"TEST TIME  OM 51SEC"},{"x":8,"y":685,"label":"C:\\ILO-V5\\ECHODATA"},{"x":8,"y":758,"label":"C:\\ILO-V5\\HCU98"},{"x":8,"y":805,"label":"HCU98\\98092305"}]},"mark":{"type":"text","fontSize":17,"fontWeight":"normal"},"encoding":{"text":{"field":"label"}}},
{"data":{"values":[{"x":106,"y":662,"label":"SAVE DIRECTORY"},{"x":100,"y":710,"label":"FILLED= 24/999"},{"x":105,"y":733,"label":"REVIEW DIRECTORY"},{"x":105,"y":783,"label":"SCREEN DATA SOURCE"}]},"mark":{"type":"text","fontSize":17,"fontWeight":"normal","align":"center"},"encoding":{"text":{"field":"label"}}}
]}
]
}
